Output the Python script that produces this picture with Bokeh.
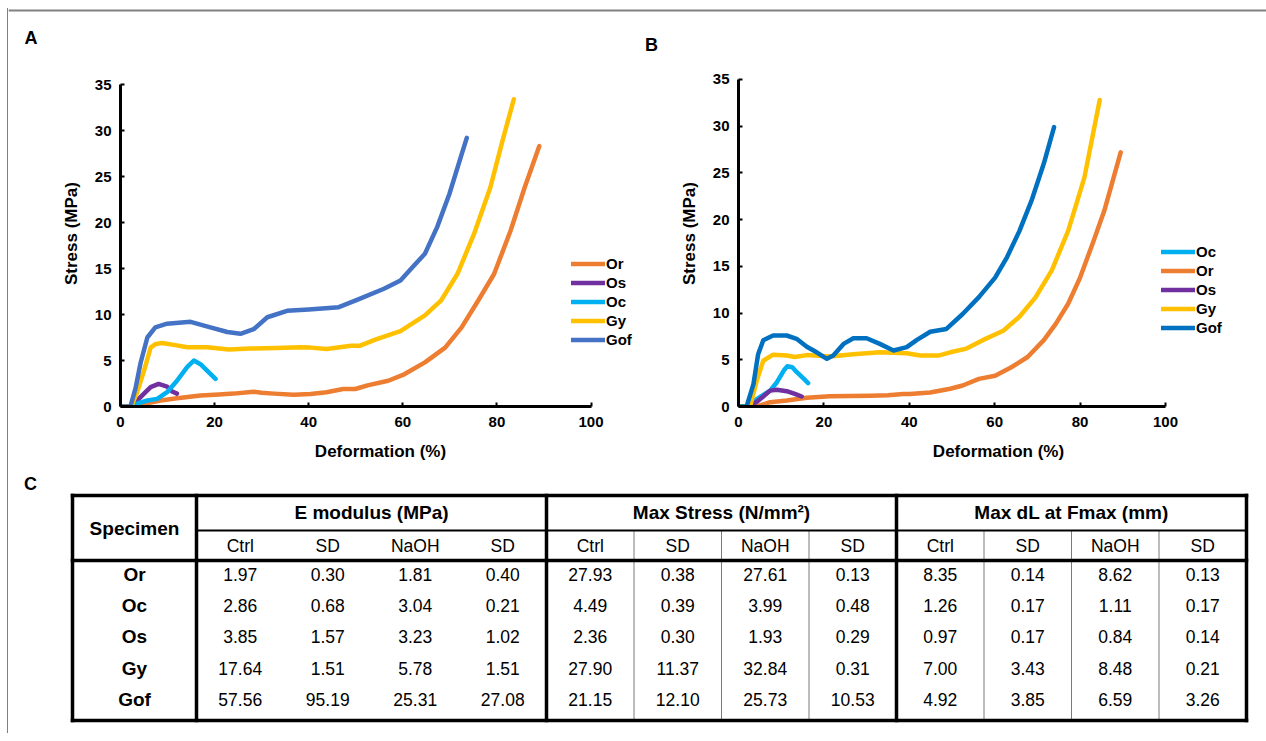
from bokeh.plotting import figure
from bokeh.models import Range1d, Legend, LegendItem, FixedTicker
from bokeh.layouts import column, row
from bokeh.embed import file_html
from bokeh.resources import INLINE
from bokeh.core.properties import value

FONT = "Liberation Sans"

# ---------------- data: panel A (Ctrl) ----------------
a_or_x = [0, 2.5, 5, 8.5, 12, 17, 21, 24, 28.3, 30, 32.6, 36.8, 40.4, 43.8, 47.3, 49.9, 52.5, 56.9, 60.3, 64.7, 69, 72.5, 76, 79.4, 82.9, 85.9, 89]
a_or_y = [0, 0, 0.3, 0.65, 0.9, 1.2, 1.3, 1.4, 1.6, 1.5, 1.4, 1.27, 1.37, 1.55, 1.9, 1.9, 2.3, 2.8, 3.5, 4.8, 6.4, 8.6, 11.5, 14.4, 19.1, 23.8, 28.3]
a_os_x = [2.8, 3.2, 5.0, 6.4, 8.1, 9.9, 11, 12]
a_os_y = [0.1, 0.47, 1.4, 2.1, 2.45, 2.17, 1.63, 1.4]
a_oc_x = [2.8, 4, 5.7, 7.8, 9.9, 12.0, 14.2, 15.6, 17.0, 18.4, 20.2]
a_oc_y = [0.1, 0.4, 0.65, 0.83, 1.55, 2.8, 4.3, 5.0, 4.6, 3.9, 3.0]
a_gy_x = [0, 2.3, 3.5, 5.0, 6.4, 7.5, 8.9, 11.3, 14.2, 18.4, 23.0, 27.6, 33, 38.3, 40.4, 43.8, 49, 50.8, 54.3, 59.5, 64.7, 68.1, 71.6, 75.1, 78.6, 81.2, 83.6]
a_gy_y = [0, 0, 1.5, 3.9, 6.4, 6.8, 6.9, 6.7, 6.45, 6.45, 6.2, 6.3, 6.35, 6.45, 6.4, 6.25, 6.6, 6.6, 7.3, 8.2, 9.9, 11.5, 14.4, 18.7, 23.8, 28.9, 33.4]
a_gof_x = [0, 2.1, 3.2, 4.25, 5.7, 7.4, 9.9, 14.9, 19.1, 22.7, 25.5, 28.3, 31.2, 35.4, 40, 46.4, 50.8, 56, 59.5, 62, 64.7, 67.3, 69.9, 72.5, 73.6]
a_gof_y = [0, 0, 2.0, 4.7, 7.5, 8.6, 9.0, 9.2, 8.6, 8.1, 7.9, 8.4, 9.7, 10.4, 10.55, 10.8, 11.7, 12.8, 13.7, 15.1, 16.6, 19.5, 23.1, 27.4, 29.2]

# ---------------- data: panel B (NaOH) ----------------
b_oc_x = [2.7, 5.0, 7.4, 9.0, 10.6, 11.4, 12.6, 13.6, 15.2, 16.3]
b_oc_y = [0.3, 1.0, 1.7, 2.6, 3.85, 4.3, 4.2, 3.7, 3.0, 2.5]
b_or_x = [4.3, 7.4, 11.3, 16, 21.4, 30.8, 35, 38.6, 40.1, 44.9, 49.6, 52.5, 56.3, 60.1, 63.9, 67.7, 71.5, 74.3, 77.2, 80, 82.9, 85.7, 89.5]
b_or_y = [0, 0.46, 0.64, 0.93, 1.1, 1.15, 1.2, 1.35, 1.35, 1.5, 1.9, 2.25, 2.96, 3.3, 4.2, 5.3, 7.1, 8.85, 11, 13.8, 17.4, 21, 27.2]
b_os_x = [2.7, 4.3, 5.8, 7.4, 9.0, 11.3, 13.2, 14.8]
b_os_y = [0.1, 0.5, 1.07, 1.7, 1.8, 1.64, 1.36, 1.07]
b_gy_x = [0, 2.7, 4.3, 5.8, 8.1, 11.3, 13.2, 16.0, 21.4, 26.9, 33.1, 39.4, 42.5, 46.8, 49.6, 53.4, 57.2, 62, 65.8, 69.6, 73.4, 77.2, 81, 84.6]
b_gy_y = [0, 0, 2.8, 4.9, 5.55, 5.45, 5.3, 5.5, 5.35, 5.6, 5.8, 5.7, 5.45, 5.45, 5.8, 6.2, 7.1, 8.1, 9.6, 11.7, 14.6, 18.8, 24.5, 32.8]
b_gof_x = [0, 1.9, 3.5, 4.6, 5.8, 8.1, 11.3, 13.6, 16.0, 18.3, 20.7, 22.2, 24.6, 26.9, 30.0, 33.1, 36.3, 39.4, 41.7, 44.9, 48.7, 52.5, 56.3, 60.1, 62.9, 65.8, 68.6, 71.5, 73.9]
b_gof_y = [0, 0, 2.4, 5.6, 7.1, 7.6, 7.6, 7.25, 6.4, 5.8, 5.1, 5.45, 6.7, 7.3, 7.3, 6.7, 6.0, 6.35, 7.1, 8.0, 8.3, 9.9, 11.7, 13.8, 16, 18.8, 22.0, 26.0, 29.9]

x_ticks = [0, 20, 40, 60, 80, 100]
y_ticks = [0, 5, 10, 15, 20, 25, 30, 35]

# ---------------- data: table C ----------------
specimens = ["Or", "Oc", "Os", "Gy", "Gof"]
groups = ["E modulus (MPa)", "Max Stress (N/mm\u00b2)", "Max dL at Fmax (mm)"]
sub_headers = ["Ctrl", "SD", "NaOH", "SD"]
e_ctrl = [1.97, 2.86, 3.85, 17.64, 57.56]
e_ctrl_sd = [0.30, 0.68, 1.57, 1.51, 95.19]
e_naoh = [1.81, 3.04, 3.23, 5.78, 25.31]
e_naoh_sd = [0.40, 0.21, 1.02, 1.51, 27.08]
s_ctrl = [27.93, 4.49, 2.36, 27.90, 21.15]
s_ctrl_sd = [0.38, 0.39, 0.30, 11.37, 12.10]
s_naoh = [27.61, 3.99, 1.93, 32.84, 25.73]
s_naoh_sd = [0.13, 0.48, 0.29, 0.31, 10.53]
d_ctrl = [8.35, 1.26, 0.97, 7.00, 4.92]
d_ctrl_sd = [0.14, 0.17, 0.17, 3.43, 3.85]
d_naoh = [8.62, 1.11, 0.84, 8.48, 6.59]
d_naoh_sd = [0.13, 0.17, 0.14, 0.21, 3.26]
table_columns = [e_ctrl, e_ctrl_sd, e_naoh, e_naoh_sd,
                 s_ctrl, s_ctrl_sd, s_naoh, s_naoh_sd,
                 d_ctrl, d_ctrl_sd, d_naoh, d_naoh_sd]

C_OR, C_OS, C_OC, C_GY = "#ED7D31", "#7030A0", "#00B0F0", "#FFC000"
C_GOF_A, C_GOF_B = "#4472C4", "#0070C0"

# ---------------- layout constants (page pixels) ----------------
X0 = 8            # page x of layout content left
Y0 = 8            # page y of layout content top
W = 1250
STRIP_W = 1258
STRIP_H = 47
CH = 415          # chart row height
FT = 5            # frame top offset in chart figs
FH = 346          # frame height
TAB_H = 263


def chart(series, width, border_left, xpx, ypx, leg_xy):
    fw = width - border_left
    p = figure(width=width, height=CH, output_backend="svg", toolbar_location=None,
               x_range=Range1d(0, fw / xpx), y_range=Range1d(0, FH / ypx),
               min_border_left=border_left, min_border_right=0,
               min_border_top=FT, min_border_bottom=CH - FT - FH)
    p.grid.visible = False
    p.outline_line_color = None
    items = []
    for name, xs, ys, color in series:
        r = p.line(xs, ys, line_color=color, line_width=4.5, line_join="round", line_cap="round")
        items.append(LegendItem(label=name, renderers=[r]))
    p.xaxis.ticker = FixedTicker(ticks=x_ticks)
    p.yaxis.ticker = FixedTicker(ticks=y_ticks)
    p.xaxis.bounds = (0, 100)
    p.yaxis.bounds = (0, 35)
    p.xaxis.axis_label = "Deformation (%)"
    p.yaxis.axis_label = "Stress (MPa)"
    for ax in p.axis:
        ax.axis_line_width = 3
        ax.axis_line_color = "black"
        ax.major_tick_line_width = 2
        ax.major_tick_in = 4
        ax.major_tick_out = 0
        ax.minor_tick_line_color = None
        ax.major_label_text_font = FONT
        ax.major_label_text_font_style = "bold"
        ax.major_label_text_font_size = "15px"
        ax.major_label_text_color = "black"
        ax.axis_label_text_font = FONT
        ax.axis_label_text_font_style = "bold"
        ax.axis_label_text_font_size = "17px"
        ax.axis_label_text_color = "black"
    p.yaxis.major_label_standoff = 9
    p.xaxis.major_label_standoff = 10
    p.yaxis.axis_label_standoff = 11
    p.xaxis.axis_label_standoff = 12
    leg = Legend(items=items, location=leg_xy, glyph_width=34, glyph_height=19,
                 label_height=19, label_standoff=1, spacing=0, padding=0, margin=0,
                 border_line_color=None, background_fill_alpha=0,
                 label_text_font=FONT, label_text_font_style="bold",
                 label_text_font_size="15px", label_text_color="black")
    p.add_layout(leg)
    return p


figA = chart([("Or", a_or_x, a_or_y, C_OR), ("Os", a_os_x, a_os_y, C_OS),
              ("Oc", a_oc_x, a_oc_y, C_OC), ("Gy", a_gy_x, a_gy_y, C_GY),
              ("Gof", a_gof_x, a_gof_y, C_GOF_A)],
             632, 112, 4.705, 9.2, (451, 57.5))
figB = chart([("Oc", b_oc_x, b_oc_y, C_OC), ("Or", b_or_x, b_or_y, C_OR),
              ("Os", b_os_x, b_os_y, C_OS), ("Gy", b_gy_x, b_gy_y, C_GY),
              ("Gof", b_gof_x, b_gof_y, C_GOF_B)],
             618, 98, 4.27, 9.343, (423, 69.5))

# ---------------- top strip (panel letters, frame line) ----------------
strip = figure(width=STRIP_W, height=STRIP_H, output_backend="svg", toolbar_location=None,
               x_range=Range1d(X0, X0 + STRIP_W), y_range=Range1d(Y0 + STRIP_H, Y0),
               x_axis_location=None, y_axis_location=None, min_border=0)
strip.grid.visible = False
strip.outline_line_color = None
strip.segment(x0=[X0], y0=[10], x1=[X0 + STRIP_W], y1=[10], line_color="#808080", line_width=2)
strip.text(x=[30.5, 651], y=[37, 44.5], text=["A", "B"], text_font=value(FONT),
           text_font_style="bold", text_font_size="18px", text_align="center",
           text_baseline="middle", text_color="black")

# ---------------- table figure ----------------
ty0 = Y0 + STRIP_H + CH
tab = figure(width=W, height=TAB_H, output_backend="svg", toolbar_location=None,
             x_range=Range1d(X0, X0 + W), y_range=Range1d(ty0 + TAB_H, ty0),
             x_axis_location=None, y_axis_location=None, min_border=0)
tab.grid.visible = False
tab.outline_line_color = None

L, R, T, B = 72, 1246, 495, 720
SPEC_R = 196
H1, H2 = 530, 560
cw = (R - SPEC_R) / 12
gw = cw * 4
row_y = [574 + 31.2 * i for i in range(len(specimens))]

# thin gray sub-column separators (groups 2 and 3)
gx = [SPEC_R + gw * g + cw * k for g in (1, 2) for k in (1, 2, 3)]
tab.segment(x0=gx, y0=[H1] * len(gx), x1=gx, y1=[B] * len(gx), line_color="#7a7a7a", line_width=1)
# header separator
tab.segment(x0=[SPEC_R], y0=[H1], x1=[R], y1=[H1], line_color="black", line_width=2)
# thick lines
tx0 = [L, L, L, R, SPEC_R, SPEC_R + gw, SPEC_R + 2 * gw, L]
ty0s = [T, B, T, T, T, T, T, H2]
tx1 = [R, R, L, R, SPEC_R, SPEC_R + gw, SPEC_R + 2 * gw, R]
ty1 = [T, B, B, B, B, B, B, H2]
tab.segment(x0=tx0, y0=ty0s, x1=tx1, y1=ty1, line_color="black", line_width=3.5, line_cap="square")

tab.text(x=[30], y=[483], text=["C"], text_font=value(FONT), text_font_style="bold",
         text_font_size="18px", text_align="center", text_baseline="middle", text_color="black")
bold = dict(text_font=value(FONT), text_font_style="bold", text_font_size="19px",
            text_align="center", text_baseline="middle", text_color="black")
reg = dict(text_font=value(FONT), text_font_size="17.5px",
           text_align="center", text_baseline="middle", text_color="black")
tab.text(x=[(L + SPEC_R) / 2], y=[(T + H2) / 2], text=["Specimen"], **bold)
tab.text(x=[SPEC_R + gw * (g + 0.5) for g in range(3)], y=[512] * 3, text=groups, **bold)
tab.text(x=[SPEC_R + cw * (c + 0.5) for c in range(12)], y=[545.5] * 12,
         text=sub_headers * 3, **reg)
tab.text(x=[(L + SPEC_R) / 2] * len(specimens), y=row_y, text=specimens, **bold)
vx, vy, vt = [], [], []
for c, col in enumerate(table_columns):
    for r, v in enumerate(col):
        vx.append(SPEC_R + cw * (c + 0.5))
        vy.append(row_y[r])
        vt.append(f"{v:.2f}")
tab.text(x=vx, y=vy, text=vt, **reg)

layout = column(strip, row(figA, figB), tab,
                styles={"margin-left": "7px", "margin-top": "8px",
                        "border-left": "1px solid #808080"})
open("out.html", "w").write(file_html(layout, INLINE))
